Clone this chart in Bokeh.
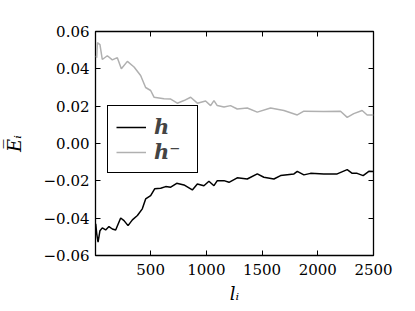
from bokeh.plotting import figure
from bokeh.models import Range1d, FixedTicker, LinearAxis, Legend, LegendItem
from bokeh.embed import file_html
from bokeh.resources import INLINE

# data
x_h = [7, 16, 28, 45, 66, 96, 126, 156, 186, 231, 261, 297, 336, 381, 425, 455, 500,
       536, 590, 635, 680, 734, 799, 874, 919, 978, 1023, 1068, 1098, 1158, 1203, 1277,
       1367, 1457, 1516, 1606, 1666, 1786, 1816, 1875, 1935, 2054, 2174, 2264, 2309,
       2353, 2407, 2458, 2500]
y_h = [-0.043, -0.0484, -0.0529, -0.0467, -0.0452, -0.0463, -0.0445, -0.0458, -0.0463,
       -0.0399, -0.0413, -0.044, -0.0409, -0.0386, -0.035, -0.0297, -0.0279, -0.0243,
       -0.0240, -0.0231, -0.0234, -0.0213, -0.0222, -0.0249, -0.0217, -0.0226, -0.0202,
       -0.0226, -0.0199, -0.0199, -0.0208, -0.0184, -0.0190, -0.0163, -0.0181, -0.0190,
       -0.0172, -0.0163, -0.0149, -0.0168, -0.0160, -0.0163, -0.0163, -0.0140, -0.0160,
       -0.0160, -0.0172, -0.0149, -0.0150]

x_hm = [7, 16, 22, 45, 66, 111, 156, 201, 237, 291, 351, 410, 455, 500, 530, 620, 680,
        739, 799, 859, 919, 993, 1038, 1068, 1098, 1158, 1217, 1277, 1367, 1457, 1576,
        1696, 1816, 1875, 2054, 2204, 2264, 2323, 2398, 2443, 2500]
y_hm = [0.047, 0.046, 0.054, 0.053, 0.045, 0.047, 0.0448, 0.046, 0.040, 0.044, 0.041,
        0.0364, 0.030, 0.0284, 0.0248, 0.024, 0.0238, 0.0216, 0.023, 0.0248, 0.0216,
        0.0228, 0.0203, 0.023, 0.0203, 0.0195, 0.0203, 0.0185, 0.019, 0.0168, 0.019,
        0.0177, 0.0153, 0.0173, 0.0171, 0.0173, 0.014, 0.016, 0.0177, 0.0153, 0.0153]

x_ticks = [500, 1000, 1500, 2000, 2500]
y_ticks = [-0.06, -0.04, -0.02, 0.0, 0.02, 0.04, 0.06]
y_tick_labels = ["\u22120.06", "\u22120.04", "\u22120.02", "0.00", "0.02", "0.04", "0.06"]

FONT = "DejaVu Serif"

p = figure(width=415, height=311, output_backend="svg", toolbar_location=None,
           x_range=Range1d(5, 2500), y_range=Range1d(-0.06, 0.06),
           min_border_left=95, min_border_right=42, min_border_top=31, min_border_bottom=56)
p.background_fill_color = "white"
p.border_fill_color = "white"
p.grid.visible = False
p.outline_line_color = "black"
p.outline_line_width = 1.3

r1 = p.line(x_h, y_h, line_color="black", line_width=1.5)
r2 = p.line(x_hm, y_hm, line_color="#b0b0b0", line_width=1.5)

for ax in (p.xaxis[0], p.yaxis[0]):
    ax.major_tick_in = 5
    ax.major_tick_out = 0
    ax.minor_tick_in = 0
    ax.minor_tick_out = 0
    ax.axis_line_color = None
    ax.major_label_text_font = FONT
    ax.major_label_text_font_size = "15px"
    ax.major_label_text_color = "black"
    ax.axis_label_text_font = FONT
    ax.axis_label_text_font_style = "italic"
    ax.axis_label_text_font_size = "18px"
    ax.axis_label_text_color = "black"

p.xaxis.ticker = FixedTicker(ticks=x_ticks)
p.yaxis.ticker = FixedTicker(ticks=y_ticks)
p.yaxis.major_label_overrides = {t: l for t, l in zip(y_ticks, y_tick_labels)}
p.xaxis.axis_label = "l\u1d62"
p.yaxis.axis_label = "E\u0305\u1d62"
p.xaxis.major_label_standoff = 8
p.yaxis.major_label_standoff = 6
p.xaxis.axis_label_standoff = 5
p.yaxis.axis_label_standoff = 16

for side, tick in (("above", x_ticks), ("right", y_ticks)):
    ax = LinearAxis(ticker=FixedTicker(ticks=tick),
                    major_label_overrides={t: "" for t in tick},
                    major_tick_in=5, major_tick_out=0, minor_tick_in=0, minor_tick_out=0,
                    axis_line_color=None)
    p.add_layout(ax, side)

legend = Legend(items=[LegendItem(label="h", renderers=[r1]),
                       LegendItem(label="h\u207b", renderers=[r2])],
                location=(12, 82), orientation="vertical")
legend.label_text_font = FONT
legend.label_text_font_style = "bold italic"
legend.label_text_font_size = "21px"
legend.border_line_color = "black"
legend.border_line_alpha = 1
legend.border_line_width = 1.3
legend.background_fill_alpha = 1
legend.glyph_width = 30
legend.glyph_height = 24
legend.label_height = 24
legend.label_width = 35
legend.label_standoff = 8
legend.padding = 8
legend.spacing = 0
legend.margin = 0
p.add_layout(legend, "center")

open("out.html", "w").write(file_html(p, INLINE))
